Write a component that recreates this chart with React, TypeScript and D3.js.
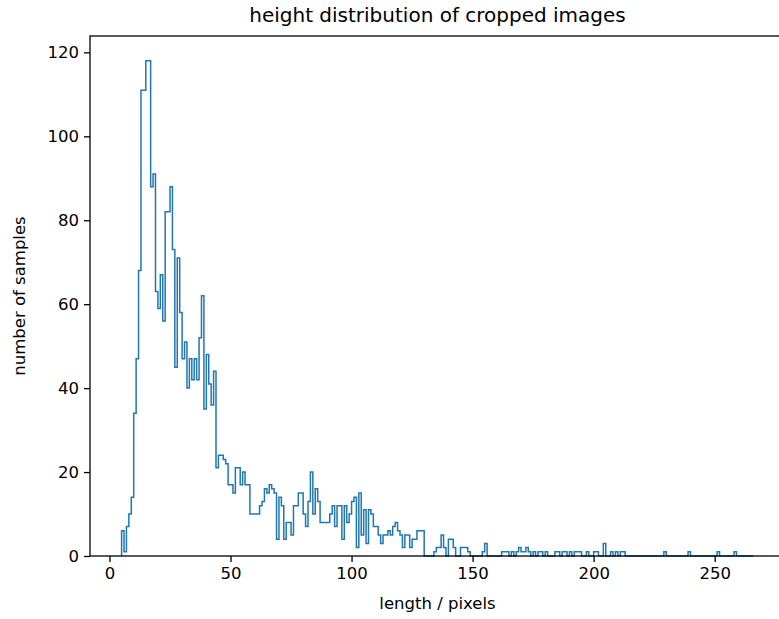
import React, { useEffect, useRef } from 'react';
import * as d3 from 'd3';

// histogram counts, one bin per unit of length, first bin starts at 5
const countsHead = [
  6, 1, 7, 10, 14, 34, 47, 68, 111, 111, 118, 118, 88, 91, 63, 59, 67, 56, 82, 82,
  88, 73, 45, 71, 58, 47, 51, 40, 47, 42, 47, 42, 52, 62, 35, 48, 41, 36, 44, 21,
  24, 24, 23, 22, 17,
]; // 5 - 49
const countsMid = [
  17, 15, 21, 21, 17, 20, 17, 17, 10, 10, 10, 10, 12, 13, 16, 15, 17, 16, 15, 4,
  14, 12, 4, 8, 8, 5, 12, 12, 15, 15, 10, 7, 13, 20, 10, 16, 13, 8, 8, 8,
  8, 10, 12, 7, 12, 12, 4, 12, 8, 10,
]; // 50 - 99
const countsTail = [
  13, 14, 2, 15, 5, 11, 3, 11, 10, 7, 7, 5, 3, 5, 5, 6, 5, 7, 8, 6,
  5, 2, 5, 5, 2, 4, 4, 6, 6, 6, 0, 0, 0, 0, 1, 2, 2, 5, 2, 0,
  4, 4, 2, 0, 0, 2, 2, 2, 1, 0,
]; // 100 - 149
const countsFar = [
  0, 0, 0, 0, 1, 3, 0, 0, 0, 0,
  0, 0, 1, 1, 1, 0, 1, 0, 1, 2,
  1, 1, 2, 1, 0, 1, 0, 1, 1, 0,
  1, 0, 0, 0, 1, 1, 0, 1, 1, 0,
  1, 0, 1, 1, 1, 0, 0, 1, 0, 0,
  1, 1, 0, 0, 3, 0, 0, 1, 0, 1,
  0, 1, 1, 0, 0, 0, 0, 0, 0, 0,
  0, 0, 0, 0, 0, 0, 0, 0, 0, 1,
  0, 0, 0, 0, 0, 0, 0, 0, 0, 1,
  0, 0, 0, 0, 0, 0, 0, 0, 0, 0,
  0, 1, 0, 0, 0, 0, 0, 0, 1, 0,
  0, 0, 0, 0, 0, 0,
]; // 150 - 265
const firstEdge = 5;
const binWidth = 1;

const xTicks = [0, 50, 100, 150, 200, 250];
const yTicks = [0, 20, 40, 60, 80, 100, 120];

const title = 'height distribution of cropped images';
const xLabel = 'length / pixels';
const yLabel = 'number of samples';

const font = 'DejaVu Sans';

const App = () => {
  const svgRef = useRef<SVGSVGElement>(null);
  const width = 779;
  const height = 619;

  useEffect(() => {
    const svg = d3.select(svgRef.current);
    svg.selectAll('*').remove();

    const counts = [...countsHead, ...countsMid, ...countsTail, ...countsFar];
    const lastEdge = firstEdge + counts.length * binWidth;
    const pad = (lastEdge - firstEdge) * 0.05;

    const margin = { top: 36, left: 90, bottom: 63 };
    const plotRight = 785; // right spine sits just off the canvas
    const plotBottom = height - margin.bottom;

    const x = d3
      .scaleLinear()
      .domain([firstEdge - pad, lastEdge + pad])
      .range([margin.left, plotRight]);

    const y = d3
      .scaleLinear()
      .domain([0, (d3.max(counts) || 1) * 1.05])
      .range([plotBottom, margin.top]);

    // step outline like matplotlib histtype='step'
    const pts: [number, number][] = [[firstEdge, 0]];
    counts.forEach((c, i) => {
      pts.push([firstEdge + i * binWidth, c]);
      pts.push([firstEdge + (i + 1) * binWidth, c]);
    });
    pts.push([lastEdge, 0]);

    const line = d3
      .line<[number, number]>()
      .x((d) => x(d[0]))
      .y((d) => y(d[1]));

    svg
      .append('path')
      .attr('d', line(pts))
      .attr('fill', 'none')
      .attr('stroke', '#1f77b4')
      .attr('stroke-width', 1.5)
      .attr('stroke-linejoin', 'miter');

    // Axes
    const gx = svg
      .append('g')
      .attr('transform', `translate(0,${plotBottom})`)
      .call(
        d3
          .axisBottom(x)
          .tickValues(xTicks)
          .tickSize(6)
          .tickPadding(5)
          .tickFormat((d) => String(d))
      );
    gx.select('.domain').remove();

    const gy = svg
      .append('g')
      .attr('transform', `translate(${margin.left},0)`)
      .call(
        d3
          .axisLeft(y)
          .tickValues(yTicks)
          .tickSize(6)
          .tickPadding(5)
          .tickFormat((d) => String(d))
      );
    gy.select('.domain').remove();

    [gx, gy].forEach((g) => {
      g.attr('font-family', font).attr('font-size', 16.5).attr('color', '#000');
      g.selectAll('line').attr('stroke-width', 1.3);
    });

    // frame
    svg
      .append('rect')
      .attr('x', margin.left)
      .attr('y', margin.top)
      .attr('width', plotRight - margin.left)
      .attr('height', plotBottom - margin.top)
      .attr('fill', 'none')
      .attr('stroke', '#000')
      .attr('stroke-width', 1.3);

    const cx = (margin.left + plotRight) / 2;

    svg
      .append('text')
      .attr('x', cx)
      .attr('y', 22)
      .attr('text-anchor', 'middle')
      .attr('font-family', font)
      .attr('font-size', 20)
      .text(title);

    svg
      .append('text')
      .attr('x', cx)
      .attr('y', 609)
      .attr('text-anchor', 'middle')
      .attr('font-family', font)
      .attr('font-size', 16.5)
      .text(xLabel);

    svg
      .append('text')
      .attr('transform', `translate(25,${(margin.top + plotBottom) / 2}) rotate(-90)`)
      .attr('text-anchor', 'middle')
      .attr('font-family', font)
      .attr('font-size', 16.5)
      .text(yLabel);
  }, []);

  return (
    <svg
      ref={svgRef}
      width={width}
      height={height}
      style={{ position: 'absolute', left: 0, top: 0, background: '#fff' }}
    />
  );
};

export default App;
